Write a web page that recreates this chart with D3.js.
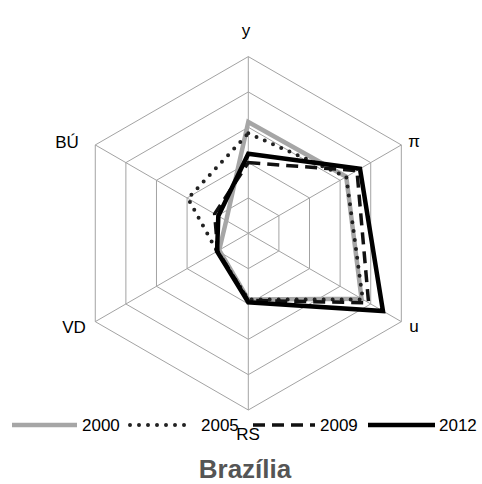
<!DOCTYPE html>
<html><head><meta charset="utf-8">
<script src="https://cdn.jsdelivr.net/npm/d3@7"></script>
<style>body{margin:0;background:#fff}svg{display:block}</style>
</head><body>
<script>
const axes = ["y", "π", "u", "RS", "VD", "BÚ"];
const years = ["2000", "2005", "2009", "2012"];
const s2000 = [3.15, 3.2, 3.7, 1.87, 0.95, 0.72];
const s2005 = [2.83, 3.2, 3.74, 1.87, 1.02, 1.97];
const s2009 = [2.0, 3.55, 3.93, 1.9, 1.0, 1.1];
const s2012 = [2.25, 3.65, 4.4, 1.95, 1.02, 0.98];
const levels = [1, 2, 3, 4, 5];
const title = "Brazília";

const W = 482, H = 484, cx = 248.3, cy = 233.3, R = 176.7;
const svg = d3.select("body").append("svg").attr("width", W).attr("height", H);
const r = d3.scaleLinear().domain([0, 5]).range([0, R]);
const ang = d3.scalePoint().domain(axes.concat(["_end"])).range([0, 2 * Math.PI]);
const pt = (a, v) => [cx + r(v) * Math.sin(ang(a)), cy - r(v) * Math.cos(ang(a))];

const g = svg.append("g");
levels.forEach(l => {
  g.append("path").attr("d", d3.line().curve(d3.curveLinearClosed)(axes.map(a => pt(a, l))))
    .attr("fill", "none").attr("stroke", "#a3a3a3").attr("stroke-width", 1);
});
axes.forEach(a => {
  const [x, y] = pt(a, 5);
  g.append("line").attr("x1", cx).attr("y1", cy).attr("x2", x).attr("y2", y)
    .attr("stroke", "#a3a3a3").attr("stroke-width", 1);
});

const styles = [
  {stroke: "#a6a6a6", w: 4.5, dash: null, cap: "butt"},
  {stroke: "#222", w: 4, dash: "0 9", cap: "round"},
  {stroke: "#111", w: 3.5, dash: "12 7", cap: "butt"},
  {stroke: "#000", w: 4.5, dash: null, cap: "butt"}
];
const series = [s2000, s2005, s2009, s2012];
series.forEach((s, i) => {
  const st = styles[i];
  svg.append("path").attr("d", d3.line().curve(d3.curveLinearClosed)(axes.map((a, k) => pt(a, s[k]))))
    .attr("fill", "none").attr("stroke", st.stroke).attr("stroke-width", st.w)
    .attr("stroke-dasharray", st.dash).attr("stroke-linecap", st.cap).attr("stroke-linejoin", "miter");
});

const legX = [[12, 77, 82], [130, 190, 201], [253, 315, 320], [368, 435, 439]];
const legY = 425;
years.forEach((yr, i) => {
  const st = styles[i], L = legX[i];
  svg.append("line").attr("x1", L[0]).attr("x2", L[1]).attr("y1", legY).attr("y2", legY)
    .attr("stroke", st.stroke).attr("stroke-width", st.w)
    .attr("stroke-dasharray", st.dash).attr("stroke-linecap", st.cap);
  svg.append("text").attr("x", L[2]).attr("y", legY + 6).text(yr)
    .attr("font-family", "Liberation Sans, Arial, sans-serif").attr("font-size", 17).attr("fill", "#000");
});

const labelPos = {"y": [246, 36, "middle"], "π": [414, 147, "middle"], "u": [414, 332, "middle"],
  "RS": [248, 440, "middle"], "VD": [74, 333, "middle"], "BÚ": [67, 148, "middle"]};
axes.forEach(a => {
  const p = labelPos[a];
  svg.append("text").attr("x", p[0]).attr("y", p[1]).attr("text-anchor", p[2]).text(a)
    .attr("font-family", "Liberation Sans, Arial, sans-serif").attr("font-size", 17).attr("fill", "#000");
});

svg.append("text").attr("x", 245).attr("y", 478).attr("text-anchor", "middle").text(title)
  .attr("font-family", "Liberation Sans, Arial, sans-serif").attr("font-weight", "bold")
  .attr("font-size", 26).attr("fill", "#555");
</script>
</body></html>
